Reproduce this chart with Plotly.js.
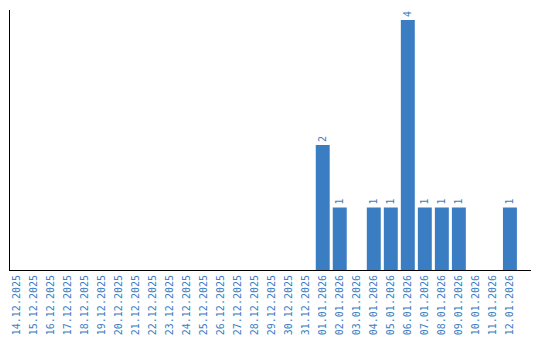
<!DOCTYPE html>
<html><head><meta charset="utf-8">
<script src="https://cdn.plot.ly/plotly-3.0.1.min.js"></script>
<style>html,body{margin:0;padding:0;background:#fff}</style>
</head><body>
<div id="chart" style="width:540px;height:340px"></div>
<script>
const dates = ["14.12.2025","15.12.2025","16.12.2025","17.12.2025","18.12.2025","19.12.2025","20.12.2025","21.12.2025","22.12.2025","23.12.2025","24.12.2025","25.12.2025","26.12.2025","27.12.2025","28.12.2025","29.12.2025","30.12.2025","31.12.2025","01.01.2026","02.01.2026","03.01.2026","04.01.2026","05.01.2026","06.01.2026","07.01.2026","08.01.2026","09.01.2026","10.01.2026","11.01.2026","12.01.2026"];
const counts = [0,0,0,0,0,0,0,0,0,0,0,0,0,0,0,0,0,0,2,1,0,1,1,4,1,1,1,0,0,1];
const labels = counts.map(v => v > 0 ? String(v) : "");
const blue = "#3a7dc3";
Plotly.newPlot("chart", [{
  type: "bar", x: dates, y: counts, text: labels,
  textposition: "outside", textangle: -90, cliponaxis: false,
  textfont: {family: "DejaVu Sans Mono", size: 10, color: blue},
  marker: {color: blue}, hoverinfo: "none"
}], {
  width: 540, height: 340,
  margin: {l: 10, r: 9, t: 10, b: 70},
  paper_bgcolor: "#fff", plot_bgcolor: "#fff",
  bargap: 0.18, showlegend: false,
  xaxis: {type: "category", range: [-0.38, 30.24], tickangle: -90,
    tickfont: {family: "DejaVu Sans Mono", size: 10, color: blue},
    showline: true, linecolor: "#000", linewidth: 1, showgrid: false, zeroline: false, ticks: ""},
  yaxis: {range: [0, 4.16], showline: true, linecolor: "#000", linewidth: 1,
    showgrid: false, zeroline: false, showticklabels: false, ticks: ""}
}, {staticPlot: true});
</script>
</body></html>
